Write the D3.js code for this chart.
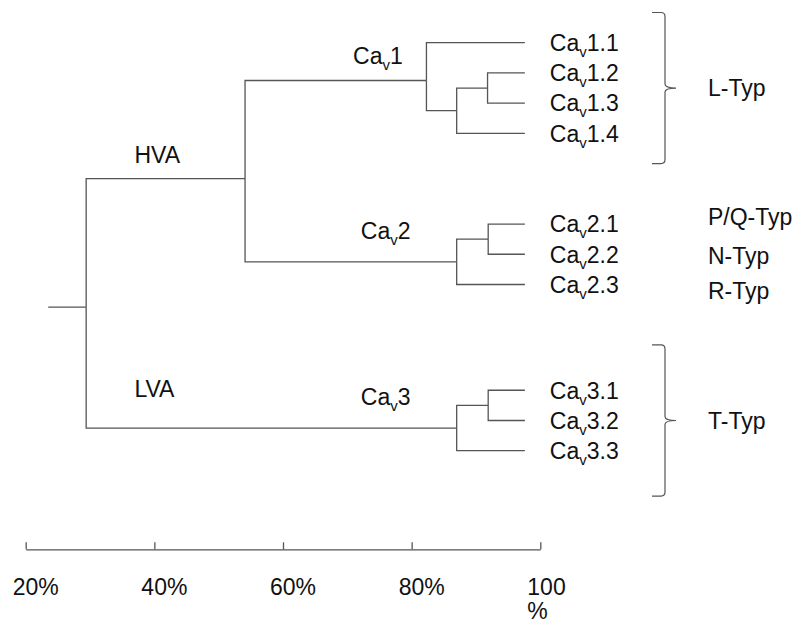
<!DOCTYPE html>
<html>
<head>
<meta charset="utf-8">
<script src="https://cdn.jsdelivr.net/npm/d3@7"></script>
<style>
  html, body { margin: 0; padding: 0; background: #fff; }
  svg { display: block; }
  text { font-family: "Liberation Sans", Arial, sans-serif; fill: #111; }
</style>
</head>
<body>
<svg id="chart" width="798" height="623"></svg>
<script>
// ---------- DATA ----------
// Dendrogram nodes (flat table): id, parent, similarity (%), row (vertical position in leaf-row units)
const nodeIds     = ["root", "HVA", "LVA", "Cav1", "n1a", "n1b", "Cav2", "n2a", "n3a",
                     "1.1", "1.2", "1.3", "1.4", "2.1", "2.2", "2.3", "3.1", "3.2", "3.3"];
const nodeParents = [null, "root", "root", "HVA", "Cav1", "n1a", "HVA", "Cav2", "LVA",
                     "Cav1", "n1b", "n1b", "n1a", "n2a", "n2a", "Cav2", "n3a", "n3a", "LVA"];
const nodeSimilarity = [29.4, 54.1, 87.0, 82.3, 87.0, 91.8, 87.0, 91.9, 91.9,
                        97.6, 97.6, 97.6, 97.6, 97.6, 97.6, 97.6, 97.6, 97.6, 97.6];
const nodeRows    = [8.75, 4.5, 12.75, 1.25, 2.25, 1.5, 7.25, 6.5, 12.0,
                     0, 1, 2, 3, 6, 7, 8, 11.5, 12.5, 13.5];
const rootStubStart = 23.5; // similarity where the root stub begins

// Branch labels: text, node whose incoming branch is labelled
const branchLabelText  = ["HVA", "LVA", "1", "2", "3"];
const branchLabelSub   = [false, false, true, true, true];
const branchLabelNodes = ["HVA", "LVA", "Cav1", "Cav2", "LVA"];

// Channel type labels (rows)
const typeLabels = ["L-Typ", "P/Q-Typ", "N-Typ", "R-Typ", "T-Typ"];
const typeRows   = [1.5, 5.75, 7.05, 8.2, 12.5];

// Braces: centre row and half-span in rows
const braceCentres = [1.5, 12.5];
const braceHalfSpan = 2.5;

// Axis
const axisTicks = [20, 40, 60, 80, 100];
const axisTickLabels = [["20%"], ["40%"], ["60%"], ["80%"], ["100", "%"]];

// ---------- LAYOUT / STYLE ----------
const svg = d3.select("#chart");
const FS = 23, SUBFS = 15, LINE = "#555", LW = 1.3;

const x = d3.scaleLinear().domain([20, 100]).range([25.7, 540.3]);
const y = d3.scaleLinear().domain([0, 13.5]).range([42.7, 450.7]);

const table = nodeIds.map((id, i) => ({
  id, parentId: nodeParents[i], sim: nodeSimilarity[i], row: nodeRows[i]
}));
const root = d3.stratify().id(d => d.id).parentId(d => d.parentId)(table);

// Links (elbows)
const g = svg.append("g");
g.selectAll("path.link")
  .data(root.links())
  .join("path")
  .attr("class", "link")
  .attr("fill", "none")
  .attr("stroke", LINE)
  .attr("stroke-width", LW)
  .attr("d", l => `M${x(l.source.data.sim)},${y(l.source.data.row)}V${y(l.target.data.row)}H${x(l.target.data.sim)}`);

// Root stub
g.append("path")
  .attr("fill", "none").attr("stroke", LINE).attr("stroke-width", LW)
  .attr("d", `M${x(rootStubStart)},${y(root.data.row)}H${x(root.data.sim)}`);

// Helper for "Ca_v" labels
function caLabel(sel, suffix) {
  sel.append("tspan").text("Ca");
  sel.append("tspan").attr("font-size", SUBFS).attr("dy", 6).text("v");
  sel.append("tspan").attr("font-size", FS).attr("dy", -6).text(suffix);
}

// Leaf labels
root.leaves().forEach(leaf => {
  const t = g.append("text")
    .attr("x", x(leaf.data.sim) + 25)
    .attr("y", y(leaf.data.row))
    .attr("dy", "0.36em")
    .attr("font-size", FS);
  caLabel(t, leaf.data.id);
});

// Branch labels placement (start position in % and vertical offset in px)
const branchLabelPos = {
  "HVA": { pct: 36.9, dy: -15.7 },
  "LVA": { pct: 36.9, dy: -30.7 },
  "1":   { pct: 70.9, dy: -16.4 },
  "2":   { pct: 72.1, dy: -23 },
  "3":   { pct: 72.1, dy: -23 }
};
branchLabelText.forEach((txt, i) => {
  const node = root.descendants().find(d => d.id === branchLabelNodes[i]);
  const p = branchLabelPos[txt];
  const t = g.append("text")
    .attr("x", x(p.pct))
    .attr("y", y(node.data.row) + p.dy)
    .attr("font-size", FS);
  if (branchLabelSub[i]) caLabel(t, txt); else t.text(txt);
});

// Type labels
g.selectAll("text.type")
  .data(typeLabels)
  .join("text")
  .attr("class", "type")
  .attr("x", 708)
  .attr("y", (d, i) => y(typeRows[i]))
  .attr("dy", "0.36em")
  .attr("font-size", FS)
  .text(d => d);

// Braces
const bx = 665, bl = 652, tip = 676;
g.selectAll("path.brace")
  .data(braceCentres)
  .join("path")
  .attr("class", "brace")
  .attr("fill", "none")
  .attr("stroke", LINE)
  .attr("stroke-width", 1.2)
  .attr("d", c => {
    const t = y(c - braceHalfSpan), m = y(c), b = y(c + braceHalfSpan);
    return `M${bl},${t}H${bx - 4}Q${bx},${t} ${bx},${t + 4}V${m - 4}Q${bx},${m} ${tip},${m}` +
           `Q${bx},${m} ${bx},${m + 4}V${b - 4}Q${bx},${b} ${bx - 4},${b}H${bl}`;
  });

// Axis (ticks upward)
const axisY = 549.3;
const axis = d3.axisTop(x).tickValues(axisTicks).tickSize(7).tickSizeOuter(0).tickFormat("");
const ag = svg.append("g").attr("transform", `translate(0,${axisY})`).call(axis);
ag.select(".domain").attr("stroke", LINE).attr("stroke-width", LW);
ag.selectAll(".tick line").attr("stroke", LINE).attr("stroke-width", LW);

// Axis labels
axisTicks.forEach((t, i) => {
  const txt = svg.append("text")
    .attr("x", x(t) - 13)
    .attr("y", 595)
    .attr("font-size", FS);
  axisTickLabels[i].forEach((line, j) => {
    txt.append("tspan").attr("x", x(t) - 13).attr("dy", j === 0 ? 0 : 24).text(line);
  });
});
</script>
</body>
</html>
